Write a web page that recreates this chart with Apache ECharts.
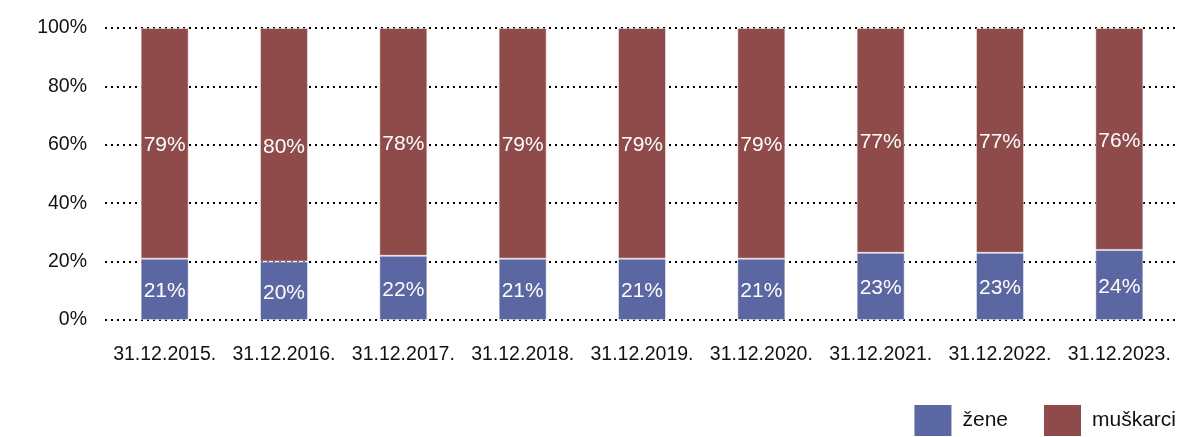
<!DOCTYPE html>
<html>
<head>
<meta charset="utf-8">
<script src="https://cdn.jsdelivr.net/npm/echarts@6/dist/echarts.min.js"></script>
<style>
  html, body { margin: 0; padding: 0; background: #fff; }
  #chart { width: 1179px; height: 437px; }
</style>
</head>
<body>
<div id="chart"></div>
<script>
// Share of women and men by reporting date (percent)
const dates = ['31.12.2015.', '31.12.2016.', '31.12.2017.', '31.12.2018.', '31.12.2019.',
               '31.12.2020.', '31.12.2021.', '31.12.2022.', '31.12.2023.'];
const zene = [21, 20, 22, 21, 21, 21, 23, 23, 24];
const muskarci = [79, 80, 78, 79, 79, 79, 77, 77, 76];
const yTicks = [0, 20, 40, 60, 80, 100];

const FONT = '"Liberation Sans", Arial, Helvetica, sans-serif';

const labelStyle = {
  show: true,
  position: 'inside',
  offset: [0, 2],
  color: '#ffffff',
  fontSize: 21,
  fontFamily: FONT,
  formatter: p => p.value + '%'
};

const chart = echarts.init(document.getElementById('chart'));
chart.setOption({
  animation: false,
  textStyle: { fontFamily: FONT },
  grid: { left: 105, right: 0, top: 28, bottom: 117, containLabel: false },
  legend: {
    right: 3,
    top: 405,
    padding: 0,
    icon: 'rect',
    itemWidth: 37,
    itemHeight: 31,
    itemGap: 36,
    itemStyle: { borderWidth: 0 },
    textStyle: { fontSize: 21, color: '#111', fontFamily: FONT, padding: [0, 0, 0, 6] },
    data: ['žene', 'muškarci']
  },
  xAxis: {
    type: 'category',
    data: dates,
    axisLine: { show: false },
    axisTick: { show: false },
    axisLabel: { color: '#111', fontSize: 19.5, margin: 25, fontFamily: FONT, interval: 0 }
  },
  yAxis: {
    type: 'value',
    min: yTicks[0],
    max: yTicks[yTicks.length - 1],
    interval: 20,
    axisLine: { show: false },
    axisTick: { show: false },
    axisLabel: { color: '#111', fontSize: 19.5, margin: 18, fontFamily: FONT, formatter: v => v + '%' },
    splitLine: { lineStyle: { color: '#000', width: 2, type: [2, 4] } }
  },
  series: [
    {
      name: 'žene',
      type: 'bar',
      stack: 'total',
      barWidth: 48,
      data: zene,
      itemStyle: { color: '#5b67a3', borderColor: 'rgba(255,255,255,0.45)', borderWidth: 1 },
      label: labelStyle
    },
    {
      name: 'muškarci',
      type: 'bar',
      stack: 'total',
      barWidth: 48,
      data: muskarci,
      itemStyle: { color: '#8f4a4a', borderColor: 'rgba(255,255,255,0.45)', borderWidth: 1 },
      label: labelStyle
    }
  ]
});
</script>
</body>
</html>
